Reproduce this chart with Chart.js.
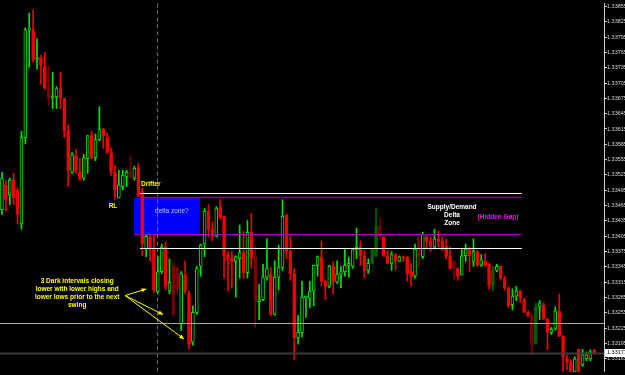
<!DOCTYPE html>
<html>
<head>
<meta charset="utf-8">
<script src="https://cdn.jsdelivr.net/npm/chart.js@4.4.0/dist/chart.umd.min.js"></script>
<style>
  html, body { margin: 0; padding: 0; background: #000; }
  #wrap { width: 625px; height: 375px; }
</style>
</head>
<body>
<div id="wrap"><canvas id="priceChart" width="625" height="375"></canvas></div>
<script>
// candle values, one entry per bar, oldest first
const opens = [
  1.33457, 1.33505, 1.33486, 1.33515, 1.33496, 1.33429, 1.33598, 1.33809, 1.33809, 1.33751,
  1.33755, 1.33738, 1.33696, 1.33676, 1.33678, 1.33694, 1.33675, 1.33611, 1.33530, 1.33563,
  1.33530, 1.33519, 1.33557, 1.33602, 1.33559, 1.33594, 1.33615, 1.33598, 1.33569, 1.33530,
  1.33480, 1.33502, 1.33521, 1.33530, 1.33519, 1.33538, 1.33492, 1.33380, 1.33404, 1.33380,
  1.33296, 1.33336, 1.33384, 1.33298, 1.33346, 1.33342, 1.33233, 1.33329, 1.33294, 1.33198,
  1.33256, 1.33346, 1.33390, 1.33454, 1.33419, 1.33405, 1.33461, 1.33444, 1.33369, 1.33363,
  1.33356, 1.33361, 1.33373, 1.33334, 1.33413, 1.33365, 1.33277, 1.33281, 1.33325, 1.33331,
  1.33252, 1.33325, 1.33344, 1.33446, 1.33375, 1.33332, 1.33206, 1.33217, 1.33284, 1.33284,
  1.33298, 1.33348, 1.33365, 1.33317, 1.33307, 1.33346, 1.33315, 1.33331, 1.33336, 1.33348,
  1.33346, 1.33379, 1.33384, 1.33367, 1.33338, 1.33352, 1.33367, 1.33425, 1.33404, 1.33367,
  1.33352, 1.33369, 1.33356, 1.33365, 1.33365, 1.33336, 1.33327, 1.33404, 1.33365, 1.33404,
  1.33396, 1.33384, 1.33400, 1.33396, 1.33386, 1.33367, 1.33357, 1.33342, 1.33329, 1.33367,
  1.33380, 1.33356, 1.33375, 1.33348, 1.33356, 1.33350, 1.33309, 1.33338, 1.33346, 1.33323,
  1.33304, 1.33271, 1.33288, 1.33298, 1.33281, 1.33256, 1.33250, 1.33194, 1.33267, 1.33271,
  1.33244, 1.33217, 1.33223, 1.33259, 1.33209, 1.33167, 1.33159, 1.33140, 1.33184, 1.33154,
  1.33165, 1.33165, 1.33183
];
const closes = [
  1.33519, 1.33477, 1.33515, 1.33480, 1.33448, 1.33598, 1.33809, 1.33811, 1.33751, 1.33755,
  1.33740, 1.33696, 1.33675, 1.33680, 1.33694, 1.33675, 1.33611, 1.33534, 1.33565, 1.33532,
  1.33517, 1.33559, 1.33602, 1.33559, 1.33594, 1.33615, 1.33602, 1.33569, 1.33530, 1.33496,
  1.33505, 1.33525, 1.33530, 1.33521, 1.33538, 1.33486, 1.33390, 1.33405, 1.33380, 1.33300,
  1.33336, 1.33384, 1.33307, 1.33315, 1.33252, 1.33300, 1.33332, 1.33298, 1.33194, 1.33256,
  1.33342, 1.33388, 1.33454, 1.33419, 1.33404, 1.33459, 1.33442, 1.33367, 1.33359, 1.33356,
  1.33365, 1.33373, 1.33334, 1.33413, 1.33363, 1.33279, 1.33281, 1.33325, 1.33342, 1.33252,
  1.33325, 1.33344, 1.33444, 1.33375, 1.33332, 1.33206, 1.33217, 1.33286, 1.33288, 1.33298,
  1.33348, 1.33365, 1.33317, 1.33307, 1.33346, 1.33315, 1.33331, 1.33336, 1.33348, 1.33352,
  1.33379, 1.33384, 1.33367, 1.33338, 1.33352, 1.33380, 1.33425, 1.33404, 1.33367, 1.33352,
  1.33369, 1.33356, 1.33365, 1.33363, 1.33332, 1.33325, 1.33380, 1.33367, 1.33409, 1.33394,
  1.33384, 1.33400, 1.33394, 1.33380, 1.33367, 1.33342, 1.33342, 1.33327, 1.33367, 1.33380,
  1.33367, 1.33375, 1.33348, 1.33359, 1.33348, 1.33309, 1.33338, 1.33346, 1.33323, 1.33304,
  1.33269, 1.33288, 1.33298, 1.33284, 1.33256, 1.33250, 1.33194, 1.33267, 1.33275, 1.33244,
  1.33217, 1.33223, 1.33259, 1.33209, 1.33169, 1.33159, 1.33140, 1.33165, 1.33140, 1.33173,
  1.33173, 1.33179, 1.33177
];
const highs = [
  1.33530, 1.33515, 1.33519, 1.33528, 1.33500, 1.33611, 1.33813, 1.33842, 1.33848, 1.33792,
  1.33759, 1.33765, 1.33738, 1.33726, 1.33698, 1.33726, 1.33675, 1.33623, 1.33569, 1.33575,
  1.33557, 1.33565, 1.33602, 1.33611, 1.33605, 1.33659, 1.33617, 1.33607, 1.33578, 1.33544,
  1.33534, 1.33534, 1.33534, 1.33563, 1.33542, 1.33548, 1.33500, 1.33409, 1.33409, 1.33407,
  1.33365, 1.33390, 1.33394, 1.33361, 1.33352, 1.33346, 1.33336, 1.33357, 1.33298, 1.33269,
  1.33346, 1.33390, 1.33459, 1.33467, 1.33434, 1.33463, 1.33477, 1.33444, 1.33375, 1.33375,
  1.33367, 1.33427, 1.33415, 1.33436, 1.33450, 1.33386, 1.33311, 1.33350, 1.33400, 1.33344,
  1.33357, 1.33388, 1.33477, 1.33448, 1.33404, 1.33342, 1.33250, 1.33317, 1.33288, 1.33317,
  1.33348, 1.33367, 1.33396, 1.33319, 1.33348, 1.33356, 1.33357, 1.33346, 1.33380, 1.33365,
  1.33379, 1.33421, 1.33396, 1.33377, 1.33361, 1.33380, 1.33461, 1.33442, 1.33404, 1.33377,
  1.33375, 1.33371, 1.33367, 1.33367, 1.33365, 1.33352, 1.33390, 1.33404, 1.33413, 1.33407,
  1.33404, 1.33419, 1.33415, 1.33404, 1.33400, 1.33384, 1.33357, 1.33344, 1.33380, 1.33390,
  1.33384, 1.33400, 1.33377, 1.33369, 1.33371, 1.33352, 1.33346, 1.33350, 1.33346, 1.33327,
  1.33306, 1.33302, 1.33307, 1.33300, 1.33284, 1.33259, 1.33254, 1.33275, 1.33279, 1.33275,
  1.33244, 1.33227, 1.33267, 1.33292, 1.33211, 1.33173, 1.33163, 1.33169, 1.33184, 1.33184,
  1.33179, 1.33183, 1.33184
];
const lows = [
  1.33448, 1.33454, 1.33467, 1.33467, 1.33429, 1.33419, 1.33586, 1.33736, 1.33746, 1.33732,
  1.33703, 1.33692, 1.33661, 1.33655, 1.33655, 1.33655, 1.33598, 1.33502, 1.33528, 1.33528,
  1.33515, 1.33515, 1.33528, 1.33557, 1.33553, 1.33592, 1.33577, 1.33567, 1.33523, 1.33477,
  1.33480, 1.33496, 1.33502, 1.33519, 1.33515, 1.33482, 1.33367, 1.33365, 1.33357, 1.33294,
  1.33292, 1.33332, 1.33300, 1.33292, 1.33250, 1.33292, 1.33221, 1.33292, 1.33184, 1.33192,
  1.33252, 1.33327, 1.33365, 1.33404, 1.33396, 1.33404, 1.33438, 1.33323, 1.33298, 1.33304,
  1.33286, 1.33323, 1.33323, 1.33323, 1.33342, 1.33227, 1.33242, 1.33279, 1.33319, 1.33250,
  1.33250, 1.33300, 1.33338, 1.33361, 1.33319, 1.33163, 1.33194, 1.33208, 1.33246, 1.33265,
  1.33269, 1.33327, 1.33309, 1.33281, 1.33304, 1.33292, 1.33313, 1.33304, 1.33327, 1.33325,
  1.33342, 1.33361, 1.33348, 1.33323, 1.33332, 1.33352, 1.33365, 1.33400, 1.33365, 1.33352,
  1.33338, 1.33338, 1.33356, 1.33356, 1.33317, 1.33307, 1.33323, 1.33346, 1.33361, 1.33380,
  1.33375, 1.33380, 1.33384, 1.33377, 1.33361, 1.33340, 1.33319, 1.33319, 1.33329, 1.33356,
  1.33336, 1.33346, 1.33346, 1.33346, 1.33346, 1.33302, 1.33298, 1.33336, 1.33319, 1.33300,
  1.33265, 1.33261, 1.33279, 1.33275, 1.33256, 1.33246, 1.33173, 1.33194, 1.33242, 1.33242,
  1.33183, 1.33213, 1.33221, 1.33209, 1.33140, 1.33144, 1.33134, 1.33134, 1.33134, 1.33150,
  1.33161, 1.33161, 1.33175
];
// bars drawn in the darker shade
const darkBars = [12, 33, 44, 45, 65, 95, 96, 97, 107, 116, 126, 136, 137];

// price axis
const priceTicks = [
  1.33855, 1.33825, 1.33795, 1.33765, 1.33735, 1.33705, 1.33675, 1.33645,
  1.33615, 1.33585, 1.33555, 1.33525, 1.33495, 1.33465, 1.33435, 1.33405,
  1.33375, 1.33345, 1.33315, 1.33285, 1.33255, 1.33225, 1.33195, 1.33165
];
const priceMin = 1.33140;
const priceMax = 1.33861;
const lastPrice = 1.33177;

// horizontal levels: price, first bar, last bar
const levelPrices = [1.33490, 1.33481, 1.33409, 1.33383, 1.33236, 1.33177];
const levelFrom   = [35.4, 35.4, 33.9, 35.4, -0.5, -0.5];
const levelTo     = [133.4, 133.4, 133.4, 133.4, 154.5, 154.5];

// delta zone box and the session separator (bar index / price)
const boxBars = [33.9, 50.8];
const boxPrices = [1.33481, 1.33407];
const separatorBar = 39.8;

// labels on the chart: text, bar, price
const noteTexts  = ['Drifter', 'RL', 'delta zone?', '(Hidden Gap)'];
const noteBars   = [35.7, 28.5, 43.6, 127.3];
const notePrices = [1.33507, 1.33464, 1.33455, 1.33442];

const swingNote = ['3 Dark intervals closing', 'lower with lower highs and', 'lower lows prior to the next', 'swing'];
const swingNoteAt = [19.3, 1.33317];
const zoneNote = ['Supply/Demand', 'Delta', 'Zone'];
const zoneNoteAt = [115.5, 1.33462];

// arrows from the note to the three dark bars
const arrowFrom = [31.6, 1.33289];
const arrowTipBars = [37.0, 41.3, 46.7];
const arrowTipPrices = [1.33302, 1.33252, 1.33204];

// ---- styles ----
const BULL = '#00e400';
const BEAR = '#f00000';
const DARK_BULL = '#006000';
const DARK_BEAR = '#780000';
const FONT = '"Liberation Sans", Arial, sans-serif';

function lineColor(i) {
    const up = closes[i] >= opens[i];
    const dark = darkBars.includes(i);
    if (up) return dark ? DARK_BULL : BULL;
    return dark ? DARK_BEAR : BEAR;
}
function bodyFill(i) {
    const up = closes[i] >= opens[i];
    if (up && !darkBars.includes(i)) return '#000000';
    return lineColor(i);
}

const labels = Array.from({ length: opens.length + 2 }, (_, i) => i);
const wicks = lows.map((l, i) => [l, highs[i]]);
const bodies = opens.map((o, i) => [o, closes[i]]);

const levelStyle = [
    { color: '#ffffff', width: 1 },
    { color: '#8a008a', width: 1.5 },
    { color: '#a000a0', width: 1 },
    { color: '#ffffff', width: 1 },
    { color: '#a8a8a8', width: 1 },
    { color: '#3c3c3c', width: 2 }
];
const noteStyle = [
    { color: '#ffff00', font: 'bold 6.5px ' + FONT, align: 'left' },
    { color: '#ffff00', font: 'bold 6.5px ' + FONT, align: 'center' },
    { color: '#c4c4ff', font: '6.5px ' + FONT, align: 'center' },
    { color: '#ff00ff', font: 'bold 6.5px ' + FONT, align: 'center' }
];

function drawLines(ctx, lines, x0, y0, color, font) {
    ctx.fillStyle = color;
    ctx.font = font;
    ctx.textAlign = 'center';
    ctx.textBaseline = 'middle';
    lines.forEach((t, k) => ctx.fillText(t, x0, y0 + k * 8));
}

const overlay = {
    id: 'overlay',
    beforeDatasetsDraw(chart) {
        const { ctx, chartArea, scales: { x, y } } = chart;
        ctx.save();
        // blue zone sits behind the candles
        const bx0 = x.getPixelForValue(boxBars[0]);
        const bx1 = x.getPixelForValue(boxBars[1]);
        const by0 = y.getPixelForValue(boxPrices[0]);
        const by1 = y.getPixelForValue(boxPrices[1]);
        ctx.fillStyle = '#0000ff';
        ctx.fillRect(bx0, by0, bx1 - bx0, by1 - by0);

        // dashed separator
        const sx = Math.round(x.getPixelForValue(separatorBar)) + 0.5;
        ctx.strokeStyle = '#6e6e6e';
        ctx.lineWidth = 1;
        ctx.setLineDash([4, 3]);
        ctx.beginPath();
        ctx.moveTo(sx, chartArea.top);
        ctx.lineTo(sx, chartArea.bottom);
        ctx.stroke();
        ctx.restore();
    },
    afterDatasetsDraw(chart) {
        const { ctx, chartArea, scales: { x, y } } = chart;
        ctx.save();
        ctx.beginPath();
        ctx.rect(chartArea.left, chartArea.top, chartArea.right - chartArea.left, chartArea.bottom - chartArea.top);
        ctx.clip();

        // levels
        levelPrices.forEach((p, i) => {
            const py = Math.round(y.getPixelForValue(p)) + 0.5;
            ctx.strokeStyle = levelStyle[i].color;
            ctx.lineWidth = levelStyle[i].width;
            ctx.beginPath();
            ctx.moveTo(x.getPixelForValue(levelFrom[i]), py);
            ctx.lineTo(x.getPixelForValue(levelTo[i]), py);
            ctx.stroke();
        });

        // single labels
        noteTexts.forEach((t, i) => {
            ctx.fillStyle = noteStyle[i].color;
            ctx.font = noteStyle[i].font;
            ctx.textAlign = noteStyle[i].align;
            ctx.textBaseline = 'middle';
            ctx.fillText(t, x.getPixelForValue(noteBars[i]), y.getPixelForValue(notePrices[i]));
        });

        drawLines(ctx, swingNote, x.getPixelForValue(swingNoteAt[0]), y.getPixelForValue(swingNoteAt[1]),
            '#ffff00', 'bold 6.5px ' + FONT);
        drawLines(ctx, zoneNote, x.getPixelForValue(zoneNoteAt[0]), y.getPixelForValue(zoneNoteAt[1]),
            '#ffffff', 'bold 6.5px ' + FONT);

        // arrows
        const ax = x.getPixelForValue(arrowFrom[0]);
        const ay = y.getPixelForValue(arrowFrom[1]);
        ctx.strokeStyle = '#ffff00';
        ctx.fillStyle = '#ffff00';
        ctx.lineWidth = 1;
        arrowTipBars.forEach((b, i) => {
            const tx = x.getPixelForValue(b);
            const ty = y.getPixelForValue(arrowTipPrices[i]);
            const ang = Math.atan2(ty - ay, tx - ax);
            ctx.beginPath();
            ctx.moveTo(ax, ay);
            ctx.lineTo(tx, ty);
            ctx.stroke();
            ctx.beginPath();
            ctx.moveTo(tx, ty);
            ctx.lineTo(tx - 5 * Math.cos(ang - 0.45), ty - 5 * Math.sin(ang - 0.45));
            ctx.lineTo(tx - 5 * Math.cos(ang + 0.45), ty - 5 * Math.sin(ang + 0.45));
            ctx.closePath();
            ctx.fill();
        });
        ctx.restore();
    },
    afterDraw(chart) {
        // current price tag on the axis
        const { ctx, chartArea, scales: { y } } = chart;
        const py = y.getPixelForValue(lastPrice);
        ctx.save();
        ctx.fillStyle = '#ffffff';
        ctx.fillRect(chartArea.right + 1, Math.round(py) - 4, 625 - chartArea.right - 1, 8);
        ctx.fillStyle = '#000000';
        ctx.font = '5.5px ' + FONT;
        ctx.textAlign = 'left';
        ctx.textBaseline = 'middle';
        ctx.fillText(lastPrice.toFixed(5), chartArea.right + 3, py);
        ctx.restore();
    }
};

const ctx = document.getElementById('priceChart').getContext('2d');
new Chart(ctx, {
    type: 'bar',
    data: {
        labels: labels,
        datasets: [{
            label: 'body',
            data: bodies,
            backgroundColor: bodies.map((_, i) => bodyFill(i)),
            borderColor: bodies.map((_, i) => lineColor(i)),
            borderWidth: 1,
            borderSkipped: false,
            barThickness: 3,
            minBarLength: 1,
            grouped: false
        }, {
            label: 'wick',
            data: wicks,
            backgroundColor: wicks.map((_, i) => lineColor(i)),
            borderWidth: 0,
            barThickness: 1,
            grouped: false
        }]
    },
    options: {
        responsive: false,
        animation: false,
        devicePixelRatio: 1,
        layout: { padding: 0 },
        plugins: { legend: { display: false }, tooltip: { enabled: false } },
        scales: {
            x: { display: false, offset: true },
            y: {
                position: 'right',
                min: priceMin,
                max: priceMax,
                afterBuildTicks: (scale) => { scale.ticks = priceTicks.map(v => ({ value: v })); },
                afterFit: (scale) => { scale.width = 21; },
                border: { color: '#c8c8c8', width: 1 },
                grid: { drawOnChartArea: false, color: '#c8c8c8', tickLength: 3 },
                ticks: {
                    autoSkip: false,
                    padding: 0,
                    color: '#d8d8d8',
                    font: { family: FONT, size: 5.5 },
                    callback: (v) => Number(v).toFixed(5)
                }
            }
        }
    },
    plugins: [overlay]
});
</script>
</body>
</html>
